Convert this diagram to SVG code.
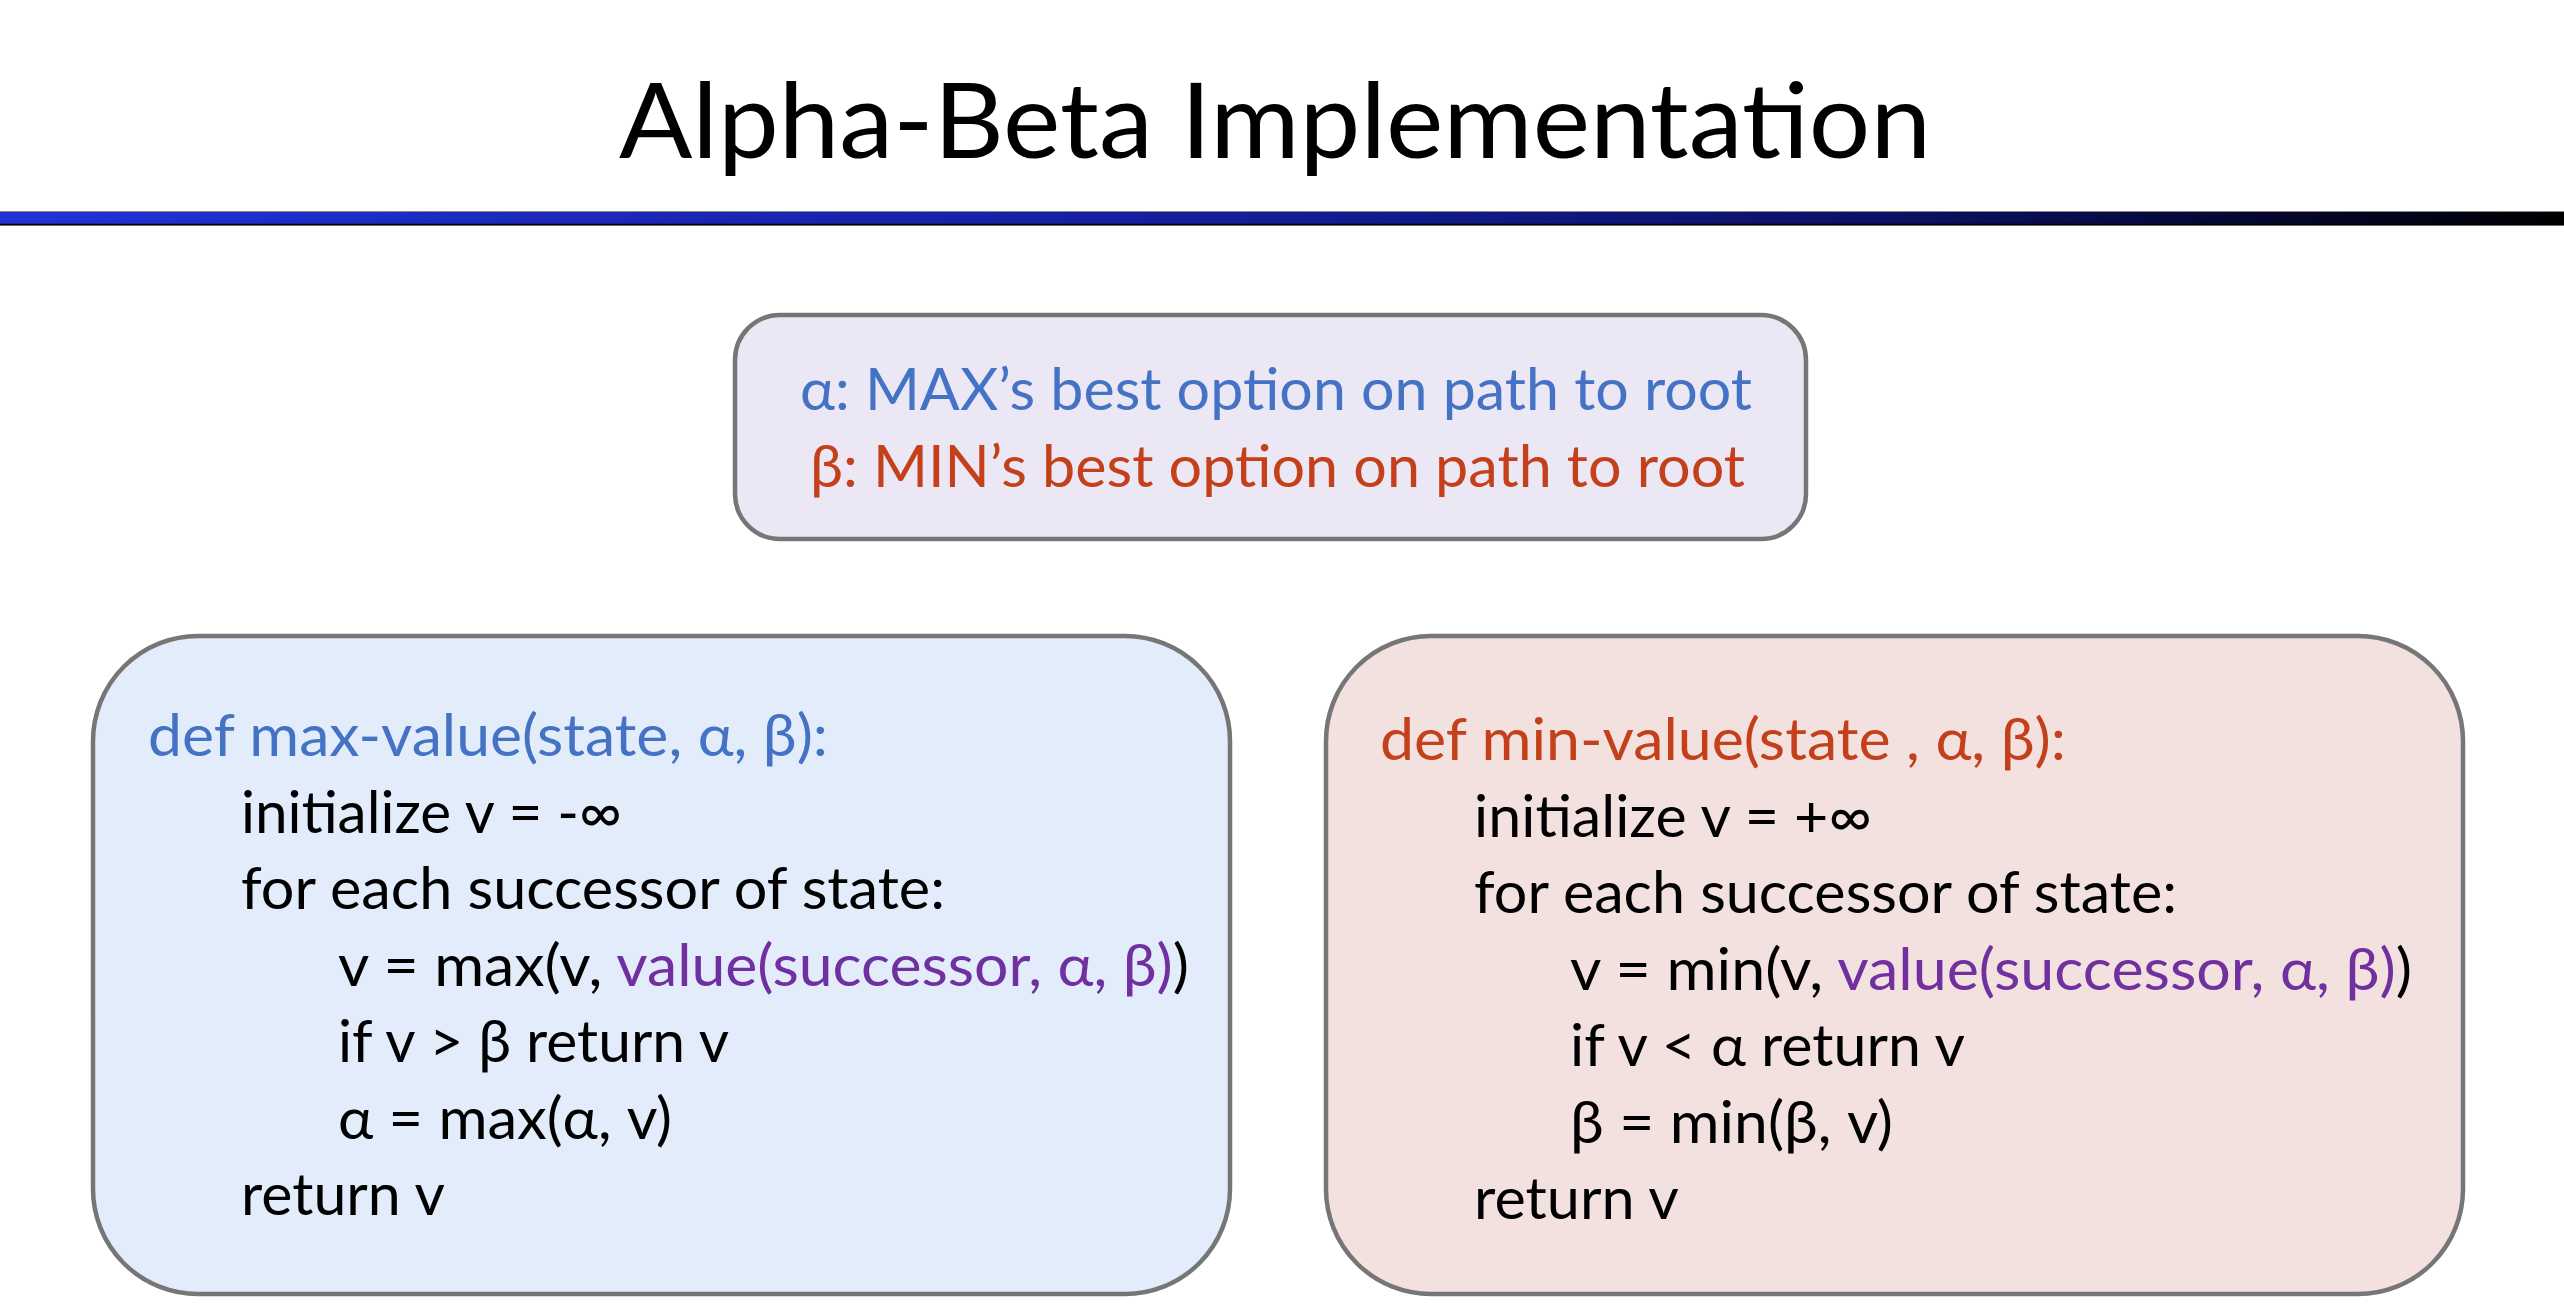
<svg xmlns="http://www.w3.org/2000/svg" width="2564" height="1312" viewBox="0 0 2564 1312">
<defs>
<linearGradient id="bar" x1="0" y1="0" x2="1" y2="0">
<stop offset="0" stop-color="#2232d6"/>
<stop offset="0.45" stop-color="#151f9e"/>
<stop offset="0.75" stop-color="#0b1060"/>
<stop offset="1" stop-color="#000000"/>
</linearGradient>
<style>
text{font-family:Lato,"Noto Sans","Liberation Sans",sans-serif;}
.title{font-size:104px;fill:#000;}
.t{font-size:59px;fill:#000;}
.blue{fill:#4472c4;}
.red{fill:#c4401a;}
.purple{fill:#7030a0;}
.box{stroke:#767676;stroke-width:4.5;}
</style>
</defs>
<rect width="2564" height="1312" fill="#ffffff"/>
<g id="title">
<text class="title" x="619" y="158" textLength="1312" lengthAdjust="spacingAndGlyphs">Alpha-Beta Implementation</text>
<rect x="-2" y="211.5" width="2570" height="14" fill="url(#bar)" stroke="#8a8a8a" stroke-width="1"/>
<line x1="0" y1="224.5" x2="2564" y2="224.5" stroke="#000" stroke-width="1.5"/>
</g>
<g id="legend">
<rect class="box" x="735" y="315" width="1071" height="224" rx="45" ry="45" fill="#ebe7f4"/>
<text class="t blue" x="800" y="410" textLength="952" lengthAdjust="spacingAndGlyphs">α: MAX’s best option on path to root</text>
<text class="t red" x="810" y="487" textLength="935" lengthAdjust="spacingAndGlyphs">β: MIN’s best option on path to root</text>
</g>
<g id="max-value">
<rect class="box" x="93" y="636" width="1137" height="658" rx="105" ry="105" fill="#e3ecfa"/>
<text class="t blue" x="148" y="756" textLength="680" lengthAdjust="spacingAndGlyphs">def max-value(state, α, β):</text>
<text class="t" x="241" y="832.5" textLength="381" lengthAdjust="spacingAndGlyphs">initialize v = -∞</text>
<text class="t" x="241" y="909" textLength="704" lengthAdjust="spacingAndGlyphs">for each successor of state:</text>
<text class="t" x="338" y="985.5" textLength="851" lengthAdjust="spacingAndGlyphs">v = max(v, <tspan class="purple">value(successor, α, β)</tspan>)</text>
<text class="t" x="338" y="1062" textLength="391" lengthAdjust="spacingAndGlyphs">if v &gt; β return v</text>
<text class="t" x="338" y="1138.5" textLength="334" lengthAdjust="spacingAndGlyphs">α = max(α, v)</text>
<text class="t" x="241" y="1215" textLength="204" lengthAdjust="spacingAndGlyphs">return v</text>
</g>
<g id="min-value">
<rect class="box" x="1326" y="636" width="1137" height="658" rx="105" ry="105" fill="#f3e1e0"/>
<text class="t red" x="1380" y="760" textLength="686" lengthAdjust="spacingAndGlyphs">def min-value(state , α, β):</text>
<text class="t" x="1474" y="836.5" textLength="398" lengthAdjust="spacingAndGlyphs">initialize v = +∞</text>
<text class="t" x="1474" y="913" textLength="703" lengthAdjust="spacingAndGlyphs">for each successor of state:</text>
<text class="t" x="1570" y="989.5" textLength="842" lengthAdjust="spacingAndGlyphs">v = min(v, <tspan class="purple">value(successor, α, β)</tspan>)</text>
<text class="t" x="1570" y="1066" textLength="395" lengthAdjust="spacingAndGlyphs">if v &lt; α return v</text>
<text class="t" x="1570" y="1142.5" textLength="323" lengthAdjust="spacingAndGlyphs">β = min(β, v)</text>
<text class="t" x="1474" y="1219" textLength="205" lengthAdjust="spacingAndGlyphs">return v</text>
</g>
<g id="connectors"></g>
</svg>
